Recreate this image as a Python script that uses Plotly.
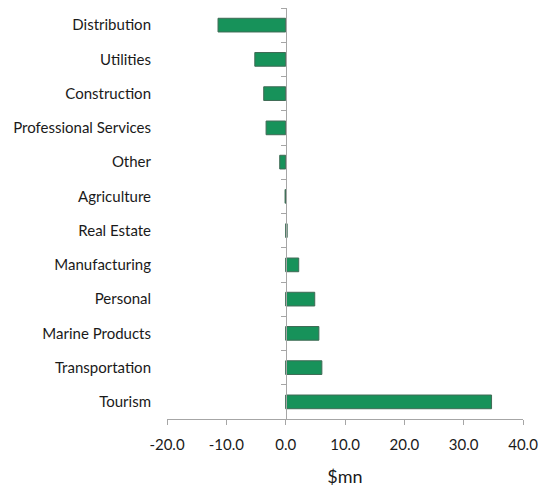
import plotly.graph_objects as go

categories = ["Distribution", "Utilities", "Construction", "Professional Services", "Other",
              "Agriculture", "Real Estate", "Manufacturing", "Personal", "Marine Products",
              "Transportation", "Tourism"]
values = [-11.4, -5.2, -3.7, -3.3, -1.0, -0.1, 0.25, 2.2, 4.9, 5.6, 6.1, 34.7]
x_ticks = [-20, -10, 0, 10, 20, 30, 40]
x_tick_text = ["-20.0", "-10.0", "0.0", "10.0", "20.0", "30.0", "40.0"]

fig = go.Figure()
fig.add_trace(go.Bar(
    x=values, y=categories, orientation="h",
    marker=dict(color="#17925a", line=dict(color="#3f6a55", width=1)),
    width=0.4, showlegend=False, yaxis="y"))
fig.add_trace(go.Bar(
    x=values, y=categories, orientation="h", opacity=0,
    width=0.4, showlegend=False, yaxis="y2", hoverinfo="skip"))

font = dict(family="Lato, Open Sans, sans-serif", size=15, color="#1a1a1a")
fig.update_layout(
    width=548, height=489,
    margin=dict(l=167, r=25, t=8, b=70),
    paper_bgcolor="white", plot_bgcolor="white",
    font=font,
    xaxis=dict(range=[-20, 40], tickvals=x_ticks, ticktext=x_tick_text, automargin=False,
               showgrid=False, zeroline=False, showline=True, linecolor="#a6a6a6",
               ticks="outside", ticklen=5, tickcolor="#a6a6a6", ticklabelstandoff=7,
               title=dict(text="$mn", standoff=18)),
    yaxis=dict(type="category", categoryarray=categories, autorange="reversed",
               showgrid=False, showline=False, ticks="", ticklabelstandoff=15),
    yaxis2=dict(type="category", categoryarray=categories, overlaying="y", matches="y",
                anchor="free", position=1/3, side="left",
                showgrid=False, showline=True, linecolor="#a6a6a6",
                ticks="outside", ticklen=5, tickcolor="#a6a6a6", tickson="boundaries",
                showticklabels=False),
    bargap=0.6,
)
fig.write_html("out.html")
